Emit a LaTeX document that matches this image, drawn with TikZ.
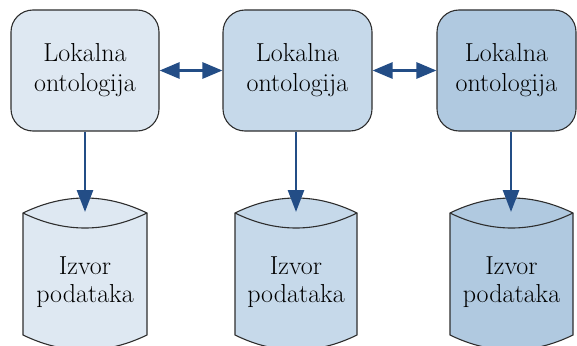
\documentclass[tikz,border=0pt]{standalone}
\usepackage{fontspec}
\usetikzlibrary{arrows.meta}
\definecolor{fillA}{HTML}{DEE8F2}
\definecolor{fillB}{HTML}{C6D9EA}
\definecolor{fillC}{HTML}{B0C9E0}
\definecolor{arrblue}{HTML}{234D86}
\definecolor{edgegray}{HTML}{2E2E2E}
\tikzset{
  onto/.style={draw=edgegray, line width=1.1pt, rounded corners=22pt, minimum height=121pt,
    inner sep=0pt, align=center, font=\rmfamily\addfontfeature{FakeBold=0.6}\fontsize{26}{30}\selectfont},
  cylbody/.style={draw=edgegray, line width=1.1pt},
  cyltext/.style={inner sep=0pt, align=center, font=\rmfamily\addfontfeature{FakeBold=0.6}\fontsize{26}{27.5}\selectfont},
  downarr/.style={draw=arrblue, line width=2.8pt, -{Triangle[length=22pt,width=16pt]}},
  twoarr/.style={draw=arrblue, line width=2.8pt, {Triangle[length=20pt,width=16pt]}-{Triangle[length=20pt,width=16pt]}}
}
\newcommand\mycyl[5]{% x1, x1+w/3, x1+2w/3, x2, fill
  \path[cylbody, fill=#5] (#1,213) -- (#1,335) .. controls (#2,355) and (#3,355) .. (#4,335) -- (#4,213)
     .. controls (#3,193) and (#2,193) .. (#1,213) -- cycle;
  \draw[cylbody] (#1,213) .. controls (#2,233) and (#3,233) .. (#4,213);
}
\begin{document}
\begin{tikzpicture}[x=1pt,y=-1pt]
\useasboundingbox (0,0) rectangle (577,345);
% ontology boxes
\node[onto, fill=fillA, minimum width=148pt] (b1) at (85,70.5) {Lokalna\\ontologija};
\node[onto, fill=fillB, minimum width=149pt] (b2) at (297.5,70.5) {Lokalna\\ontologija};
\node[onto, fill=fillC, minimum width=139pt] (b3) at (506.5,70.5) {Lokalna\\ontologija};
% data sources
\mycyl{23}{64.3}{105.7}{147}{fillA}
\mycyl{235}{275.7}{316.3}{357}{fillB}
\mycyl{450}{491}{532}{573}{fillC}
\node[cyltext] (c1) at (85,282) {Izvor\\podataka};
\node[cyltext] (c2) at (296,282) {Izvor\\podataka};
\node[cyltext] (c3) at (511.5,282) {Izvor\\podataka};
\coordinate (r1) at (85,212);
\coordinate (r2) at (296,212);
\coordinate (r3) at (511,212);
% connectors
\draw[twoarr] (b1.east) -- (b2.west);
\draw[twoarr] (b2.east) -- (b3.west);
\draw[downarr] (b1.south) -- (r1);
\draw[downarr] (b2.south -| r2) -- (r2);
\draw[downarr] (b3.south -| r3) -- (r3);
\end{tikzpicture}
\end{document}
